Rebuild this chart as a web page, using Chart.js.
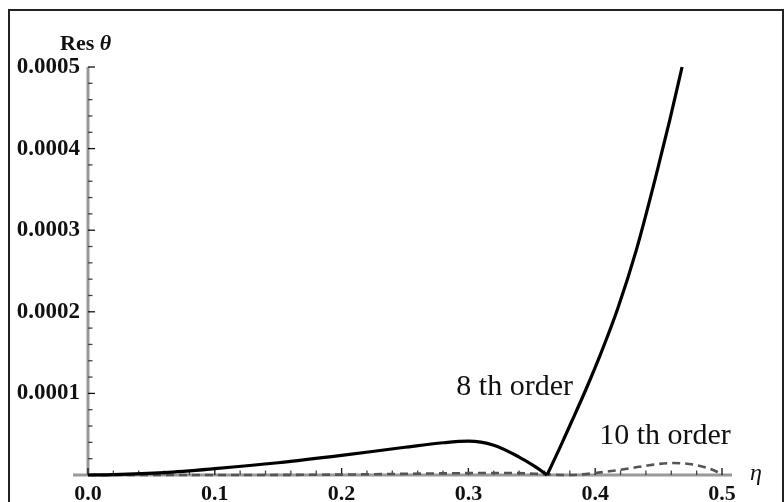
<!DOCTYPE html>
<html>
<head>
<meta charset="utf-8">
<script src="https://cdn.jsdelivr.net/npm/chart.js@4.4.1/dist/chart.umd.min.js"></script>
<style>
  html, body { margin: 0; padding: 0; background: #fff; }
  #wrap { width: 784px; height: 502px; }
</style>
</head>
<body>
<div id="wrap"><canvas id="Chart-1" width="784" height="502"></canvas></div>
<script>
// 8th order residual, left branch (up to the zero) and right branch
var eta8a = [0, 0.02, 0.06, 0.10, 0.15, 0.20, 0.25, 0.28, 0.30, 0.32, 0.34, 0.353, 0.362];
var res8a = [0, 0.0000005, 0.000003, 0.0000078, 0.000015, 0.000024, 0.000034, 0.0000395, 0.0000415, 0.0000365, 0.000022, 0.00001, 0];
var eta8b = [0.362, 0.372, 0.381, 0.393, 0.4047, 0.418, 0.4323, 0.4488, 0.4588, 0.4685];
var res8b = [0, 0.000033, 0.000064, 0.000106, 0.00015, 0.000205, 0.000275, 0.000372, 0.000435, 0.0005];

// 10th order residual
var eta10 = [0, 0.1, 0.2, 0.28, 0.33, 0.36, 0.375, 0.387, 0.411, 0.429, 0.4425, 0.461, 0.48, 0.496, 0.5];
var res10 = [0, 0, 0.0000005, 0.000002, 0.0000025, 0.000001, 0, 0.0000005, 0.0000045, 0.0000085, 0.000012, 0.0000147, 0.000012, 0.000004, 0];

var xTicks = [0, 0.1, 0.2, 0.3, 0.4, 0.5];
var xTickLabels = ["0.0", "0.1", "0.2", "0.3", "0.4", "0.5"];
var yTicks = [0.0001, 0.0002, 0.0003, 0.0004, 0.0005];
var yTickLabels = ["0.0001", "0.0002", "0.0003", "0.0004", "0.0005"];

var label8 = {text: "8 th order", x: 0.2905, y: 0.0000985};
var label10 = {text: "10 th order", x: 0.4031, y: 0.0000378};

function pts(xs, ys) {
  return xs.map(function(x, i) { return {x: x, y: ys[i]}; });
}

var serif = "'Liberation Serif', 'DejaVu Serif', serif";

var decor = {
  id: "decor",
  beforeDatasetsDraw: function(chart) {
    var ctx = chart.ctx, xs = chart.scales.x, ys = chart.scales.y;
    var x0 = xs.getPixelForValue(0), y0 = ys.getPixelForValue(0);
    var yTop = ys.getPixelForValue(0.0005);
    ctx.save();
    // frame
    ctx.strokeStyle = "#222";
    ctx.lineWidth = 2;
    ctx.beginPath();
    ctx.moveTo(9, 502); ctx.lineTo(9, 10); ctx.lineTo(783, 10); ctx.lineTo(783, 502);
    ctx.stroke();
    // axes
    ctx.strokeStyle = "#999";
    ctx.lineWidth = 3;
    ctx.beginPath();
    ctx.moveTo(73, y0); ctx.lineTo(xs.getPixelForValue(0.5) + 10, y0);
    ctx.moveTo(x0, y0); ctx.lineTo(x0, yTop);
    ctx.stroke();
    // ticks
    ctx.lineWidth = 1.3;
    var i, v, p;
    for (i = 0; i <= 25; i++) {
      v = i * 0.02;
      p = xs.getPixelForValue(v);
      var major = i % 5 === 0;
      ctx.strokeStyle = major ? "#111" : "#444";
      ctx.beginPath();
      ctx.moveTo(p, y0); ctx.lineTo(p, y0 - (major ? 7 : 4.5));
      ctx.stroke();
    }
    for (i = 1; i <= 25; i++) {
      v = i * 0.00002;
      p = ys.getPixelForValue(v);
      var majorY = i % 5 === 0;
      ctx.strokeStyle = majorY ? "#111" : "#444";
      ctx.beginPath();
      ctx.moveTo(x0, p); ctx.lineTo(x0 + (majorY ? 7 : 4.5), p);
      ctx.stroke();
    }
    ctx.restore();
  },
  afterDraw: function(chart) {
    var ctx = chart.ctx, xs = chart.scales.x, ys = chart.scales.y;
    ctx.save();
    ctx.fillStyle = "#111";
    ctx.textBaseline = "alphabetic";
    ctx.textAlign = "left";
    ctx.font = "bold 22px " + serif;
    ctx.fillText("Res ", 60, 50);
    var w = ctx.measureText("Res ").width;
    ctx.font = "italic bold 22px " + serif;
    ctx.fillText("\u03b8", 60 + w, 50);
    ctx.font = "italic 24px " + serif;
    ctx.fillText("\u03b7", 750, 480);
    ctx.font = "30px " + serif;
    ctx.fillText(label8.text, xs.getPixelForValue(label8.x), ys.getPixelForValue(label8.y));
    ctx.fillText(label10.text, xs.getPixelForValue(label10.x), ys.getPixelForValue(label10.y));
    ctx.restore();
  }
};

new Chart("Chart-1", {
  type: "line",
  data: {
    datasets: [{
      data: pts(eta8a, res8a),
      borderColor: "#000",
      borderWidth: 3.2,
      pointRadius: 0,
      cubicInterpolationMode: "monotone",
      clip: false
    }, {
      data: pts(eta8b, res8b),
      borderColor: "#000",
      borderWidth: 3.2,
      pointRadius: 0,
      cubicInterpolationMode: "monotone",
      clip: false
    }, {
      data: pts(eta10, res10),
      borderColor: "#555",
      borderWidth: 2.6,
      borderDash: [8, 5],
      pointRadius: 0,
      cubicInterpolationMode: "monotone",
      clip: false
    }]
  },
  options: {
    responsive: false,
    animation: false,
    layout: {padding: {top: 67, right: 62, left: 0, bottom: 0}},
    plugins: {legend: {display: false}, tooltip: {enabled: false}},
    scales: {
      x: {
        type: "linear",
        min: 0, max: 0.5,
        grid: {display: false, drawTicks: false},
        border: {display: false},
        afterFit: function(s) { s.height = 27; },
        afterBuildTicks: function(s) { s.ticks = xTicks.map(function(v) { return {value: v}; }); },
        ticks: {
          padding: 6,
          color: "#111",
          font: {family: serif, size: 22, weight: "bold"},
          callback: function(v, i) { return xTickLabels[i]; }
        }
      },
      y: {
        type: "linear",
        min: 0, max: 0.0005,
        grid: {display: false, drawTicks: false},
        border: {display: false},
        afterFit: function(s) { s.width = 88; },
        afterBuildTicks: function(s) { s.ticks = yTicks.map(function(v) { return {value: v}; }); },
        ticks: {
          padding: 8,
          color: "#111",
          font: {family: serif, size: 23, weight: "bold"},
          callback: function(v, i) { return yTickLabels[i]; }
        }
      }
    }
  },
  plugins: [decor]
});
</script>
</body>
</html>
